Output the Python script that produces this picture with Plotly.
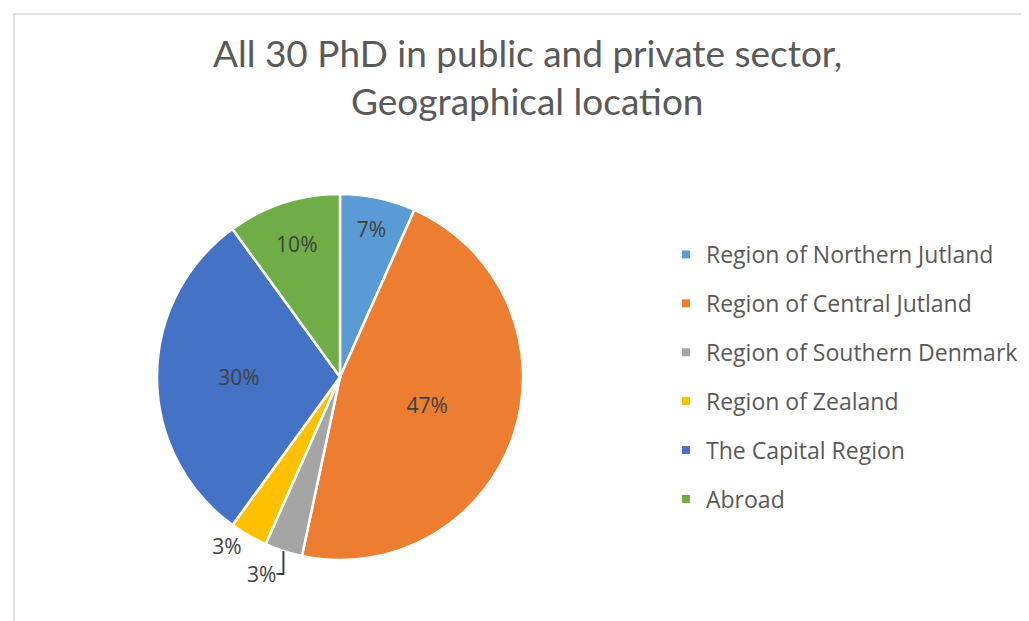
import plotly.graph_objects as go

categories = ["Region of Northern Jutland", "Region of Central Jutland", "Region of Southern Denmark",
              "Region of Zealand", "The Capital Region", "Abroad"]
counts = [2, 14, 1, 1, 9, 3]
colors = ["#5B9BD5", "#ED7D31", "#A5A5A5", "#FFC000", "#4472C4", "#70AD47"]
text_positions = ["inside", "inside", "outside", "outside", "inside", "inside"]
title_lines = ["All 30 PhD in public and private sector,", "Geographical location"]

W, H = 1029, 621

fig = go.Figure()
fig.add_trace(go.Pie(
    labels=categories, values=counts, sort=False, direction="clockwise", rotation=0,
    marker=dict(colors=colors, line=dict(color="white", width=2.5)),
    textinfo="percent", texttemplate="%{percent:.0%}", textposition=text_positions,
    textfont=dict(family="Open Sans", size=21, color="#404040"),
    insidetextorientation="horizontal",
    showlegend=False,
    domain=dict(x=[149 / W, 515 / W], y=[1 - 552 / H, 1 - 186 / H]),
))

# legend entries
for cat, col in zip(categories, colors):
    fig.add_trace(go.Scatter(x=[None], y=[None], mode="markers", name=cat, legendgroup=cat,
                             marker=dict(symbol="square", size=8, color=col)))

ann = []
ys = [45, 92]
for t, yc in zip(title_lines, ys):
    ann.append(dict(text=t, x=519 / W, y=1 - yc / H, xref="paper", yref="paper",
                    xanchor="center", yanchor="middle", showarrow=False,
                    font=dict(family="Lato", size=37, color="#595959")))

fig.update_layout(
    width=W, height=H, margin=dict(l=0, r=0, t=0, b=0),
    paper_bgcolor="white", plot_bgcolor="white",
    xaxis=dict(visible=False), yaxis=dict(visible=False),
    annotations=ann,
    legend=dict(x=658 / W, y=1 - 225 / H, xanchor="left", yanchor="top",
                font=dict(family="Open Sans", size=23, color="#595959"),
                tracegroupgap=16, itemwidth=30, bgcolor="rgba(0,0,0,0)"),
    shapes=[dict(type="rect", xref="paper", yref="paper", x0=6 / W, y0=-0.05, x1=1.05, y1=1 - 6 / H,
                 line=dict(color="#D9D9D9", width=1.5), layer="below")],
)

fig.write_html("out.html")
